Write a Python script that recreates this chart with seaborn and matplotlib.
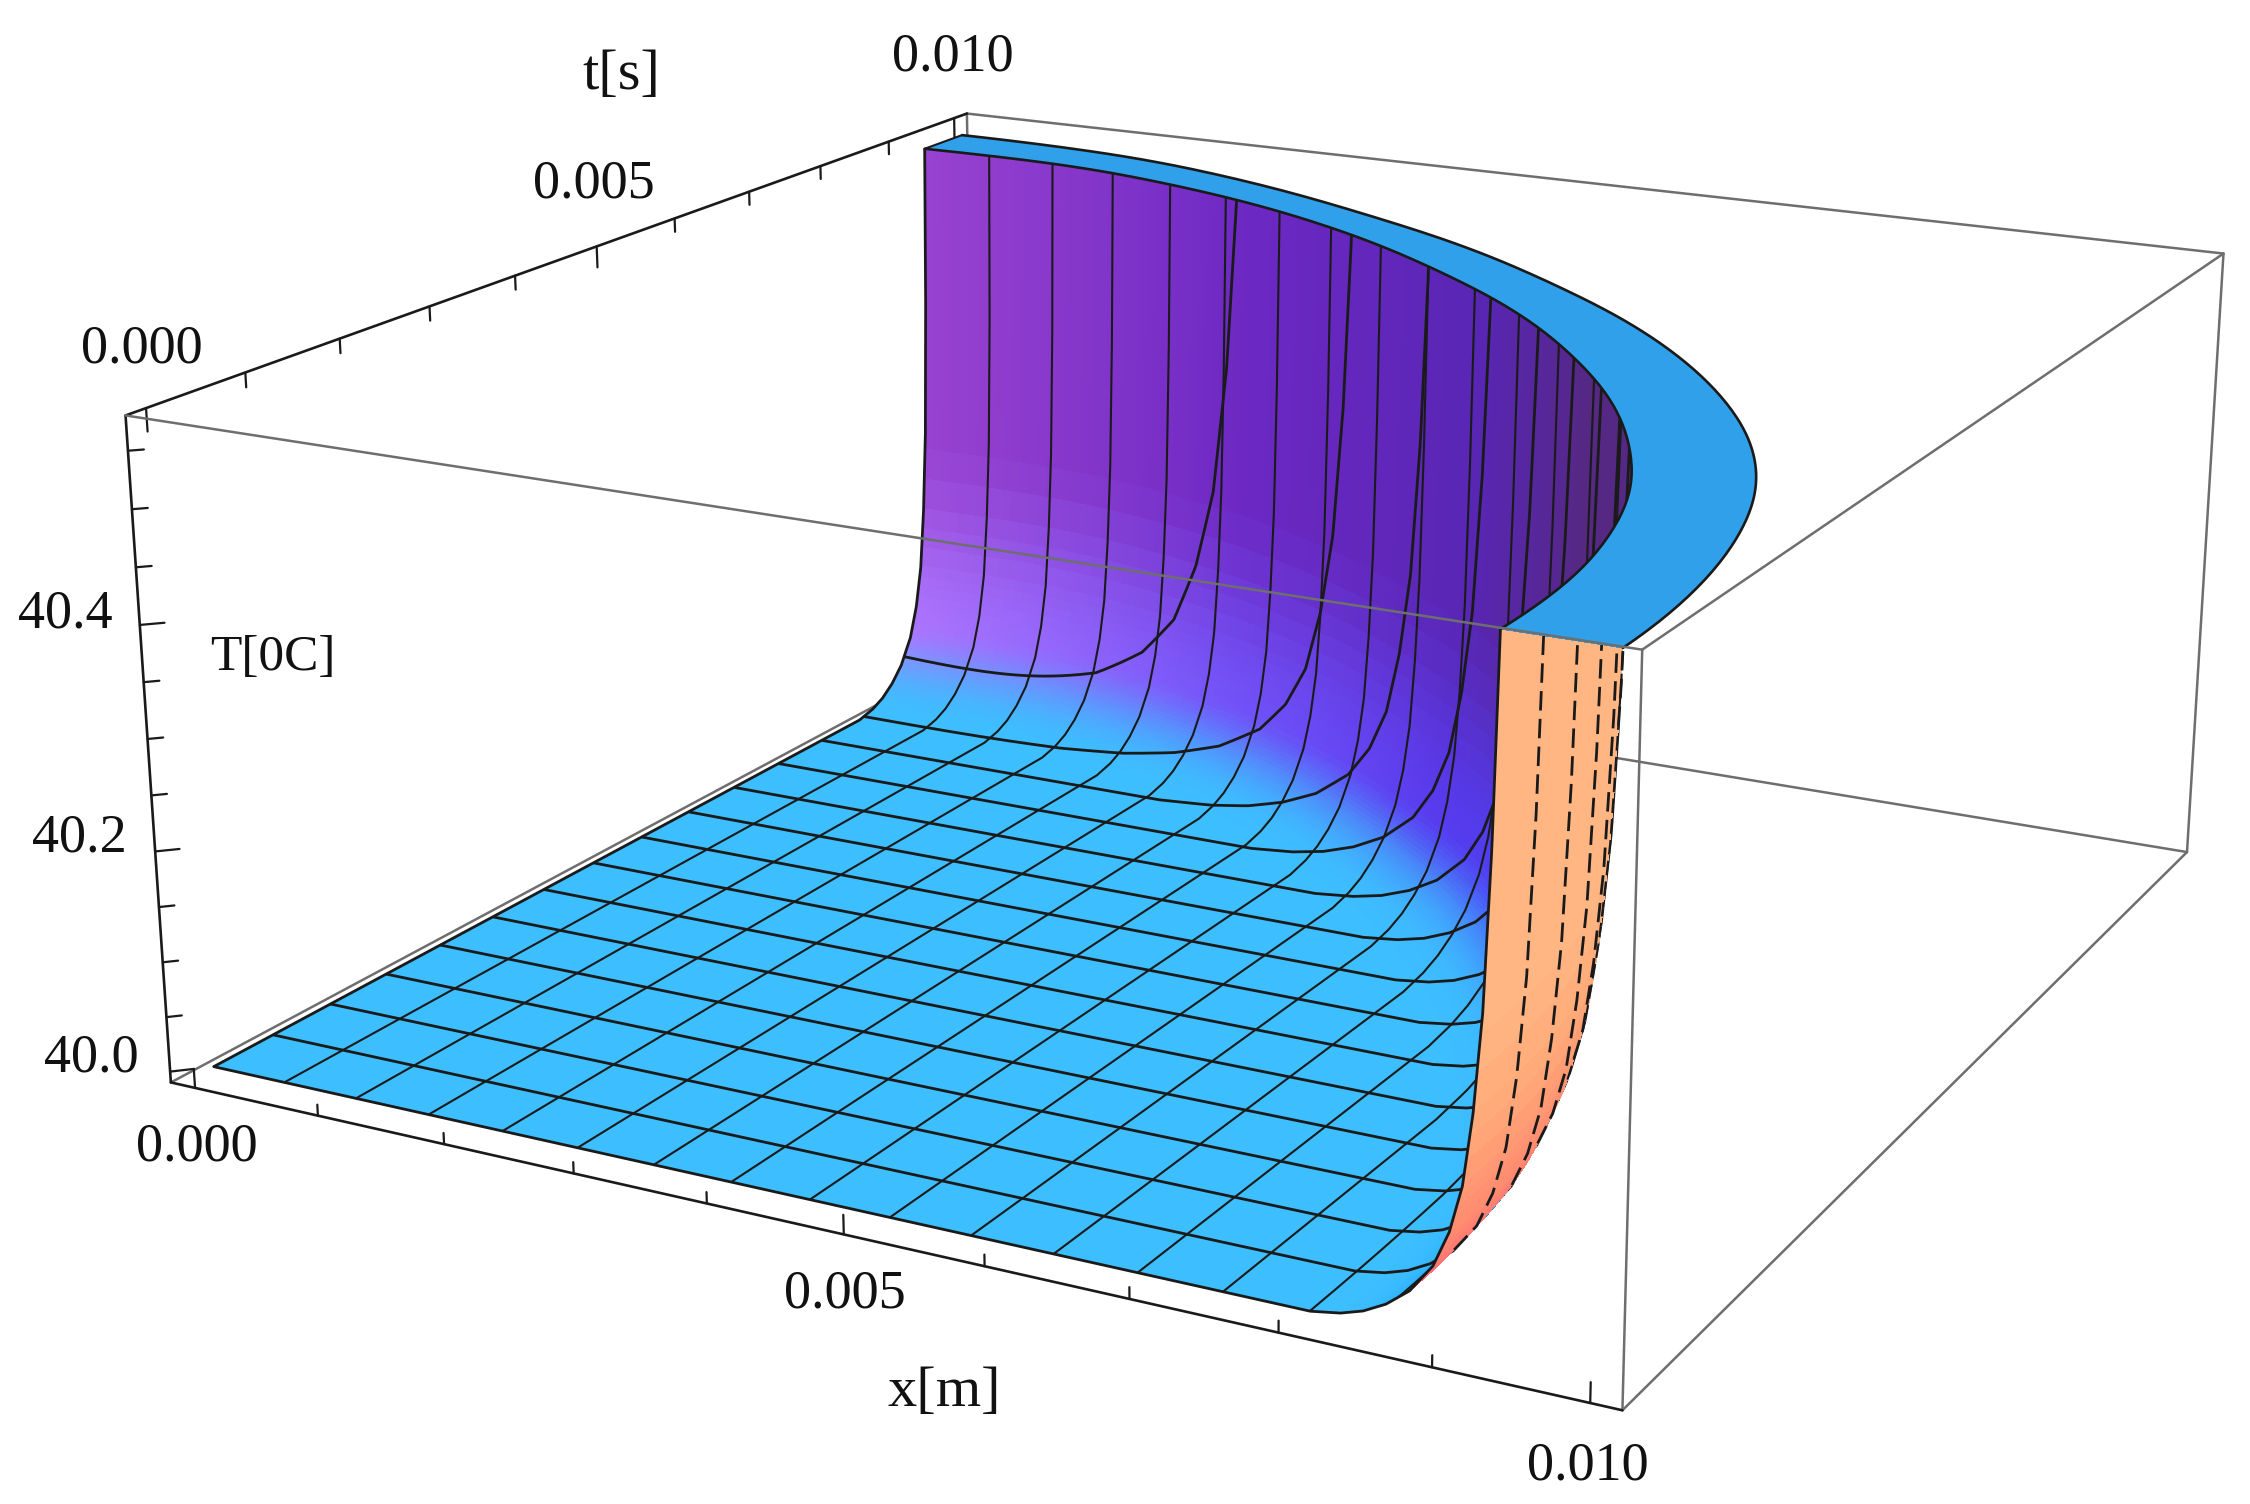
import numpy as np
import matplotlib
matplotlib.use('Agg')
import matplotlib.pyplot as plt
import seaborn as sns
from mpl_toolkits.mplot3d.art3d import Poly3DCollection

# ---------- data ----------
x_limits = (-0.0002, 0.0102)
t_limits = (-0.0002, 0.0102)
T_limits = (39.99, 40.58)
# temperature profile against normalised distance from the origin (mm)
profile_radius = [0.0, 4.0, 6.5, 7.6, 8.1, 8.3, 8.45, 8.6, 8.75, 8.9, 9.0, 9.08, 9.14, 9.19, 9.23, 9.26]
profile_temp = [40.0, 40.0, 40.0, 40.0, 40.0, 40.004, 40.01, 40.02, 40.035, 40.06, 40.09, 40.13, 40.19, 40.27, 40.40, 40.57]
top_radius = 9.26
rim_angle_in = [0, 7, 18, 24, 38, 54, 70, 81, 90]
rim_radius_in = [9.26, 9.28, 9.25, 9.2, 9.12, 9.12, 9.25, 9.3, 9.2]
rim_angle_out = [0, 11, 19, 25, 37, 50, 65, 80, 90]
rim_radius_out = [10.0, 10.0, 10.0, 9.96, 9.82, 9.68, 9.66, 9.82, 9.78]
mesh_x_mm = [0.579, 1.158, 1.736, 2.315, 2.894, 3.473, 4.051, 4.63, 5.209, 5.788, 6.366, 6.945, 7.524, 8.103, 8.681]
mesh_t_mm = [0.625, 1.25, 1.875, 2.5, 3.125, 3.75, 4.375, 5.0, 5.625, 6.25, 6.875, 7.5, 8.125, 8.75]
x_minor = [0.000, 0.001, 0.002, 0.003, 0.004, 0.005, 0.006, 0.007, 0.008, 0.009, 0.010]
x_major = [0.000, 0.005, 0.010]
T_minor = [40.0, 40.05, 40.1, 40.15, 40.2, 40.25, 40.3, 40.35, 40.4, 40.45, 40.5, 40.55]
T_major = [40.0, 40.2, 40.4]

wall_angle = [0, 20, 35, 50, 70, 90]
wall_rgb = [(85, 40, 135), (85, 40, 135), (85, 40, 130), (88, 38, 180), (108, 40, 195), (152, 66, 208)]
glow_rgb = [(0, 150, 255), (20, 125, 252), (70, 65, 245), (88, 60, 240), (115, 85, 250), (172, 118, 255)]
floor_rgb = (61, 190, 255)
cap_color = '#31A0EA'
orange_colors = ['#FF5078', '#FF8A70', '#FFA878', '#FFB682']
edge_gray = '#6E6E6E'

labels = [('t[s]', 621, 75, 42), ('0.010', 953, 57, 39), ('0.005', 594, 184, 39), ('0.000', 142, 349, 39),
          ('40.4', 65, 614, 39), ('40.2', 79, 838, 39), ('40.0', 91, 1058, 39), ('T[0C]', 273, 658, 37),
          ('0.000', 197, 1147, 39), ('0.005', 845, 1294, 39), ('x[m]', 944, 1392, 42), ('0.010', 1588, 1466, 39)]

# ---------- layout ----------
W, H = 2250, 1504
SCALE, CX, CY = 11799.67, 1238.71, 651.22
sns.set_theme(style='white')
plt.rcParams['font.family'] = ['Liberation Serif', 'DejaVu Serif']
fig = plt.figure(figsize=(W / 100, H / 100), dpi=100, facecolor='white')
ax = fig.add_axes([0, 0, 1, 1], projection='3d', computed_zorder=False)
ax.set_xlim(x_limits); ax.set_ylim(t_limits); ax.set_zlim(T_limits)
ax.view_init(elev=17.812, azim=-62.412, roll=-0.0438)
ax.set_proj_type('persp', focal_length=0.43459)
ax.set_box_aspect((2.2874, 2.3001, 1.0))
ax.set_axis_off()
x0, x1 = ax.viewLim.intervalx
y0, y1 = ax.viewLim.intervaly
ax.set_position([(CX + SCALE * x0) / W, (H - CY + SCALE * y0) / H,
                 SCALE * (x1 - x0) / W, SCALE * (y1 - y0) / H])
M = ax.get_proj()


def project(x, t, z):
    w = M[3, 0] * x + M[3, 1] * t + M[3, 2] * z + M[3, 3]
    return ((M[0, 0] * x + M[0, 1] * t + M[0, 2] * z + M[0, 3]) / w,
            (M[1, 0] * x + M[1, 1] * t + M[1, 2] * z + M[1, 3]) / w)


def smooth_rim(angles, radii, theta):
    fine = np.linspace(-30, 120, 1501)
    vals = np.interp(fine, angles, radii)
    k = np.hanning(121); k /= k.sum()
    vals = np.convolve(vals, k, mode='same')
    vals[:200] = vals[200]; vals[-200:] = vals[-200]
    return np.interp(theta, fine, vals)


def rim_in(theta):
    return smooth_rim(rim_angle_in, rim_radius_in, theta)


def rim_out(theta):
    return smooth_rim(rim_angle_out, rim_radius_out, theta)


def surface(rho, theta):
    rad = np.radians(theta)
    r = rho * rim_in(theta) / top_radius
    return r * np.cos(rad) * 1e-3, r * np.sin(rad) * 1e-3, np.interp(rho, profile_radius, profile_temp)


def is_front(rho, theta):
    a = surface(rho, theta)
    b = surface(rho - 0.004, theta)
    c = surface(rho, theta + 0.1)
    ua, va = project(*a); ub, vb = project(*b); uc, vc = project(*c)
    cross = (ua - ub) * (vc - va) - (va - vb) * (uc - ua)
    return (cross > 0) | (rho < 8.0)


def soft(w):
    w = np.clip(w, 0, 1)
    return w * w * (3 - 2 * w)


# ---------- surface ----------
theta_nodes = np.linspace(0, 90, 181)
rho_nodes = np.r_[0.0, 4.0, 6.5, 7.6, np.linspace(7.9, top_radius, 70)]
TH, RH = np.meshgrid(theta_nodes, rho_nodes)
SX, ST, SZ = surface(RH, TH)
quad_x = np.stack([SX[:-1, :-1], SX[1:, :-1], SX[1:, 1:], SX[:-1, 1:]], -1)
quad_t = np.stack([ST[:-1, :-1], ST[1:, :-1], ST[1:, 1:], ST[:-1, 1:]], -1)
quad_z = np.stack([SZ[:-1, :-1], SZ[1:, :-1], SZ[1:, 1:], SZ[:-1, 1:]], -1)
quads = np.stack([quad_x, quad_t, quad_z], -1).reshape(-1, 4, 3)
mid_rho = 0.5 * (RH[:-1, :-1] + RH[1:, :-1]).ravel()
mid_theta = 0.5 * (TH[:-1, :-1] + TH[:-1, 1:]).ravel()
mid_T = quad_z.mean(-1).ravel()
h = (mid_T - 40.0) / (profile_temp[-1] - 40.0)
front = is_front(mid_rho, mid_theta)

wall = np.stack([np.interp(mid_theta, wall_angle, np.array(wall_rgb)[:, i]) for i in range(3)], -1)
glow = np.stack([np.interp(mid_theta, wall_angle, np.array(glow_rgb)[:, i]) for i in range(3)], -1)
floor = np.array(floor_rgb, float)
w1 = soft(h / 0.13)[:, None]
w2 = soft((h - 0.08) / 0.42)[:, None]
front_rgb = ((1 - w1) * floor + w1 * glow) * (1 - w2) + w2 * wall
front_rgb = np.clip(front_rgb / 255, 0, 1)
orange_map = sns.blend_palette(orange_colors, as_cmap=True)
back_rgba = orange_map(np.clip(h / 0.45, 0, 1))

ax.add_collection3d(Poly3DCollection(quads[front], facecolors=front_rgb[front], edgecolors='none',
                                     linewidths=0, antialiaseds=False, zorder=3))
if (~front).any():
    ax.add_collection3d(Poly3DCollection(quads[~front], facecolors=back_rgba[~front], edgecolors='none',
                                         linewidths=0, antialiaseds=False, zorder=5))

# clipped top band
theta_band = np.linspace(0, 90, 181)
ri = rim_in(theta_band) * 1e-3; ro = rim_out(theta_band) * 1e-3
c, s = np.cos(np.radians(theta_band)), np.sin(np.radians(theta_band))
band = [[(ri[i] * c[i], ri[i] * s[i], profile_temp[-1]), (ro[i] * c[i], ro[i] * s[i], profile_temp[-1]),
         (ro[i + 1] * c[i + 1], ro[i + 1] * s[i + 1], profile_temp[-1]), (ri[i + 1] * c[i + 1], ri[i + 1] * s[i + 1], profile_temp[-1])]
        for i in range(len(theta_band) - 1)]
ax.add_collection3d(Poly3DCollection(band, facecolors=cap_color, edgecolors='none', linewidths=0,
                                     antialiaseds=False, zorder=7))
ztop = np.full_like(ri, profile_temp[-1])
ax.plot(ri * c, ri * s, ztop, color='k', lw=1.9, zorder=8)
ax.plot(ro * c, ro * s, ztop, color='k', lw=1.9, zorder=8)
ax.plot([ri[-1] * c[-1], ro[-1] * c[-1]], [ri[-1] * s[-1], ro[-1] * s[-1]], [profile_temp[-1]] * 2, color='k', lw=1.5, zorder=8)


# ---------- mesh lines ----------
def draw_path(rho, theta, lw=1.7, back_style='-'):
    if len(rho) < 2:
        return
    fr = is_front(rho, theta)
    xs, ts, zs = surface(rho, theta)
    idx = np.flatnonzero(np.diff(fr.astype(int))) + 1
    for a, b in zip(np.r_[0, idx], np.r_[idx, len(fr)]):
        b2 = min(b + 1, len(fr))
        if fr[a]:
            ax.plot(xs[a:b2], ts[a:b2], zs[a:b2], color='k', lw=lw, zorder=4, solid_capstyle='butt')
        else:
            ax.plot(xs[a:b2], ts[a:b2], zs[a:b2], color='k', lw=lw, zorder=6, ls=back_style)


def draw_mesh_line(th, r, width):
    rho = r * top_radius / rim_in(th)
    keep = rho <= top_radius
    rho_k, th_k = rho[keep], th[keep]
    if len(rho_k) > 1:
        rho_k = np.r_[rho_k, top_radius]
        th_k = np.r_[th_k, th_k[-1]]
    draw_path(rho_k, th_k, lw=width, back_style=(0, (7, 3)))


sweep = np.linspace(0, 10, 2501)
for m in mesh_x_mm:
    draw_mesh_line(np.degrees(np.arctan2(sweep, m)), np.hypot(sweep, m), 1.5)
for m in mesh_t_mm:
    draw_mesh_line(np.degrees(np.arctan2(m, sweep)), np.hypot(sweep, m), 2.0)

# surface edges
edge_r = np.r_[np.linspace(0, 8.0, 5), np.linspace(8.0, top_radius, 400)[1:]]
draw_path(edge_r, np.full_like(edge_r, 90.0), lw=2.0)
xs, ts, zs = surface(edge_r, np.zeros_like(edge_r))
ax.plot(xs, ts, zs, color='k', lw=2.0, zorder=6)

# ---------- box and axes ----------
xa, xb = x_limits; ta, tb = t_limits; za, zb = T_limits
gray_edges = [((xa, tb, za), (xb, tb, za)), ((xa, ta, za), (xa, tb, za)), ((xa, tb, za), (xa, tb, zb)),
              ((xb, ta, za), (xb, tb, za)), ((xb, tb, za), (xb, tb, zb)), ((xb, ta, za), (xb, ta, zb)),
              ((xb, ta, zb), (xb, tb, zb)), ((xa, tb, zb), (xb, tb, zb))]
for p, q in gray_edges:
    ax.plot(*zip(p, q), color=edge_gray, lw=1.8, zorder=1)
ax.plot([xa, xb], [ta, ta], [zb, zb], color=edge_gray, lw=1.8, zorder=9)
ax.plot([xa, xb], [ta, ta], [za, za], color='k', lw=1.9, zorder=2)
ax.plot([xa, xa], [ta, tb], [zb, zb], color='k', lw=1.9, zorder=2)
ax.plot([xa, xa], [ta, ta], [za, zb], color='k', lw=1.9, zorder=2)
for v in x_minor:
    major = v in x_major
    ax.plot([v, v], [ta, ta], [za, za + (0.017 if major else 0.010)], color='k', lw=1.6, zorder=2)
    ax.plot([xa, xa], [v, v], [zb, zb - (0.02 if major else 0.013)], color='k', lw=1.6, zorder=2)
for v in T_minor:
    L = 0.00011 if v in T_major else 0.00007
    ax.plot([xa, xa + L], [ta, ta + L], [v, v], color='k', lw=1.6, zorder=2)

for txt, px, py, size in labels:
    fig.text(px / W, 1 - py / H, txt, ha='center', va='center', fontsize=size, color='#111111')

fig.savefig('out.png', dpi=100, facecolor='white')
